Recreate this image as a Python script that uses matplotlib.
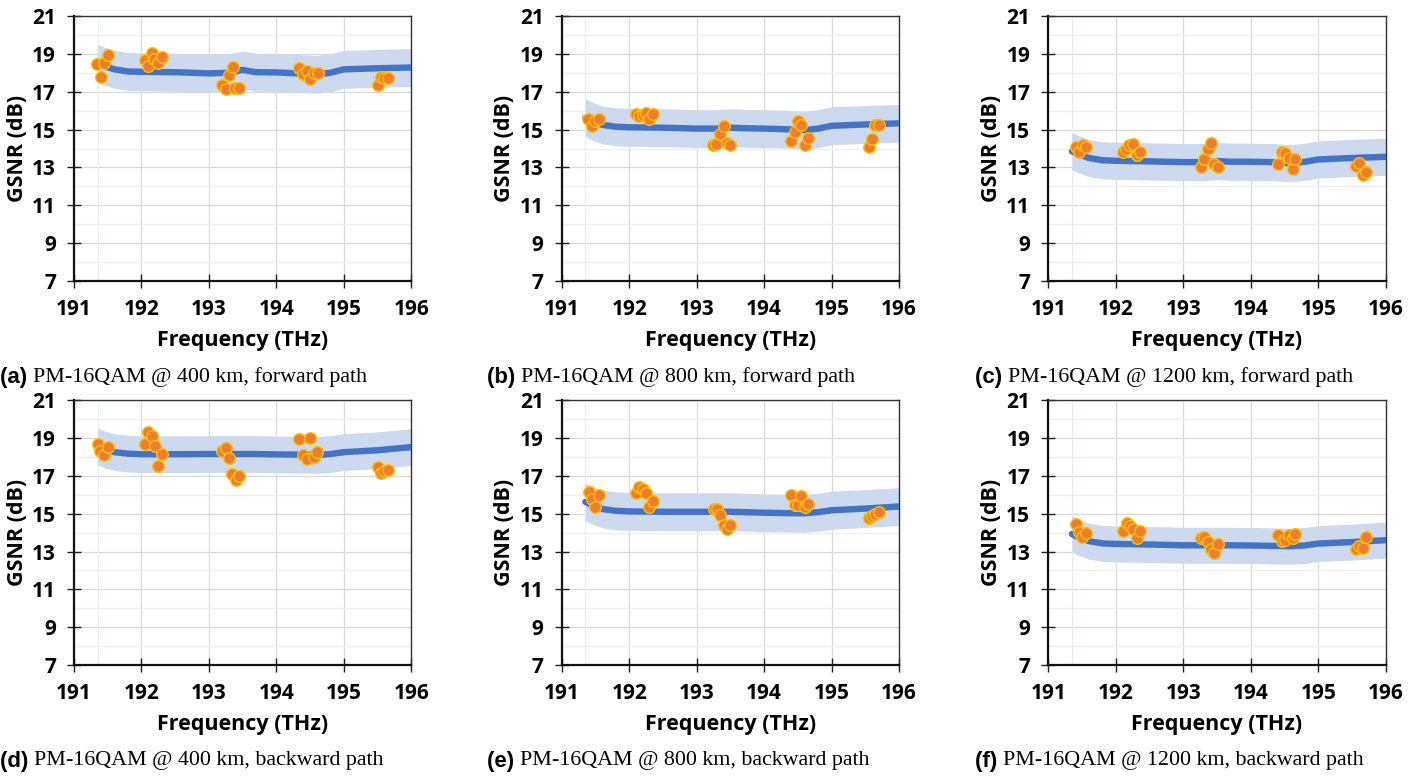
import matplotlib
matplotlib.use("Agg")
import matplotlib.pyplot as plt
from matplotlib.ticker import MultipleLocator

# ---- modelled GSNR curve (knots) ----
model_freq = [191.35, 191.45, 191.6, 191.8, 192.0, 192.5, 193.0, 193.3, 193.5,
              193.7, 194.0, 194.3, 194.6, 194.8, 195.0, 195.5, 196.0]

model_a = [18.50, 18.35, 18.18, 18.07, 18.05, 18.03, 17.97, 18.00, 18.15,
           18.03, 18.02, 17.97, 17.92, 18.00, 18.18, 18.24, 18.28]
model_b = [15.62, 15.45, 15.25, 15.15, 15.12, 15.10, 15.05, 15.05, 15.10,
           15.07, 15.05, 15.02, 14.97, 15.05, 15.20, 15.27, 15.33]
model_c = [13.85, 13.70, 13.50, 13.38, 13.35, 13.32, 13.28, 13.28, 13.34,
           13.30, 13.30, 13.28, 13.22, 13.30, 13.42, 13.50, 13.56]
model_d = [18.55, 18.40, 18.25, 18.17, 18.14, 18.14, 18.15, 18.15, 18.15,
           18.15, 18.13, 18.12, 18.10, 18.15, 18.25, 18.35, 18.52]
model_e = [15.62, 15.45, 15.25, 15.15, 15.12, 15.10, 15.10, 15.10, 15.10,
           15.08, 15.05, 15.03, 15.02, 15.08, 15.18, 15.27, 15.38]
model_f = [13.93, 13.75, 13.55, 13.43, 13.40, 13.37, 13.33, 13.33, 13.33,
           13.33, 13.32, 13.30, 13.28, 13.32, 13.42, 13.50, 13.60]

# half-width of the uncertainty band (dB)
band_hw = [1.0, 1.0, 0.98, 0.97, 1.0, 0.95]

# ---- measured channels ----
meas_f_a = [191.34, 191.40, 191.45, 191.50, 192.05, 192.10, 192.15, 192.19, 192.25, 192.31,
            193.20, 193.25, 193.30, 193.35, 193.39, 193.45, 194.34, 194.39, 194.45, 194.50,
            194.56, 194.61, 195.50, 195.55, 195.60, 195.65]
meas_g_a = [18.46, 17.76, 18.53, 18.92, 18.68, 18.36, 19.03, 18.71, 18.53, 18.83,
            17.34, 17.13, 17.87, 18.32, 17.18, 17.18, 18.24, 17.94, 18.11, 17.69,
            18.00, 18.00, 17.37, 17.76, 17.70, 17.74]

meas_f_b = [191.39, 191.45, 191.49, 191.55, 192.10, 192.15, 192.20, 192.25, 192.30, 192.35,
            193.24, 193.29, 193.35, 193.40, 193.45, 193.50, 194.40, 194.45, 194.50, 194.55,
            194.60, 194.65, 195.55, 195.60, 195.65, 195.70]
meas_g_b = [15.54, 15.19, 15.47, 15.56, 15.82, 15.73, 15.79, 15.88, 15.58, 15.84,
            14.17, 14.24, 14.77, 15.19, 14.31, 14.19, 14.41, 14.89, 15.44, 15.24,
            14.20, 14.56, 14.10, 14.50, 15.23, 15.23]

meas_f_c = [191.41, 191.46, 191.51, 191.56, 192.10, 192.15, 192.20, 192.26, 192.31, 192.36,
            193.26, 193.31, 193.36, 193.41, 193.46, 193.51, 194.41, 194.46, 194.51, 194.56,
            194.62, 194.66, 195.56, 195.61, 195.66, 195.71]
meas_g_c = [14.10, 13.82, 14.19, 14.10, 13.82, 13.96, 14.19, 14.22, 13.67, 13.83,
            13.00, 13.43, 13.97, 14.27, 13.18, 13.04, 13.16, 13.83, 13.78, 13.50,
            12.90, 13.43, 13.09, 13.22, 12.60, 12.78]

meas_f_d = [191.35, 191.39, 191.45, 191.50, 192.05, 192.10, 192.15, 192.20, 192.25, 192.30,
            193.20, 193.25, 193.30, 193.34, 193.40, 193.45, 194.34, 194.39, 194.45, 194.50,
            194.55, 194.60, 195.50, 195.55, 195.60, 195.65]
meas_g_d = [18.67, 18.33, 18.10, 18.54, 18.68, 19.33, 19.09, 18.56, 17.53, 18.14,
            18.33, 18.49, 17.94, 17.10, 16.80, 17.01, 18.93, 18.08, 17.87, 18.98,
            18.01, 18.26, 17.45, 17.13, 17.25, 17.29]

meas_f_e = [191.40, 191.45, 191.50, 191.55, 192.10, 192.14, 192.20, 192.25, 192.30, 192.35,
            193.25, 193.30, 193.35, 193.40, 193.45, 193.50, 194.40, 194.45, 194.50, 194.55,
            194.60, 194.65, 195.55, 195.60, 195.65, 195.70]
meas_g_e = [16.15, 15.79, 15.34, 16.00, 16.09, 16.39, 16.30, 16.11, 15.35, 15.67,
            15.26, 15.26, 14.95, 14.40, 14.18, 14.42, 16.00, 15.44, 15.46, 15.95,
            15.37, 15.53, 14.79, 14.89, 15.00, 15.10]

meas_f_f = [191.41, 191.46, 191.50, 191.56, 192.11, 192.16, 192.21, 192.26, 192.31, 192.36,
            193.26, 193.31, 193.36, 193.41, 193.46, 193.52, 194.41, 194.46, 194.51, 194.56,
            194.62, 194.66, 195.56, 195.61, 195.66, 195.71]
meas_g_f = [14.45, 14.02, 13.79, 14.00, 14.09, 14.49, 14.35, 14.18, 13.70, 14.09,
            13.70, 13.75, 13.49, 13.13, 12.94, 13.40, 13.87, 13.56, 13.61, 13.89,
            13.72, 13.93, 13.12, 13.29, 13.17, 13.77]

panel_tags = ["(a)", "(b)", "(c)", "(d)", "(e)", "(f)"]
panel_titles = [
    "PM-16QAM @ 400 km, forward path",
    "PM-16QAM @ 800 km, forward path",
    "PM-16QAM @ 1200 km, forward path",
    "PM-16QAM @ 400 km, backward path",
    "PM-16QAM @ 800 km, backward path",
    "PM-16QAM @ 1200 km, backward path",
]
models = [model_a, model_b, model_c, model_d, model_e, model_f]
meas = [(meas_f_a, meas_g_a), (meas_f_b, meas_g_b), (meas_f_c, meas_g_c),
        (meas_f_d, meas_g_d), (meas_f_e, meas_g_e), (meas_f_f, meas_g_f)]

x_ticks = [191, 192, 193, 194, 195, 196]
y_ticks = [7, 9, 11, 13, 15, 17, 19, 21]

# ---- styling ----
W, H = 1420, 776
LINE_BLUE = "#4472C4"
BAND_BLUE = "#CCD9EE"
DOT_FILL = "#ED7D31"
DOT_EDGE = "#FFC000"
TICK_FONT = "Open Sans"
CAP_SERIF = "Liberation Serif"
CAP_SANS = "Liberation Sans"

fig = plt.figure(figsize=(W / 100, H / 100), dpi=100)
renderer = fig.canvas.get_renderer()

col_left = [74, 561.7, 1048.3]
row_top = [16, 400.1]
ax_w, ax_h = 337.4, 265

for i in range(6):
    r, c = divmod(i, 3)
    left = col_left[c]
    top = row_top[r]
    ax = fig.add_axes([left / W, 1 - (top + ax_h) / H, ax_w / W, ax_h / H])

    mean = models[i]
    hw = band_hw[i]
    lower = [m - hw for m in mean]
    upper = [m + hw for m in mean]

    ax.fill_between(model_freq, lower, upper, color=BAND_BLUE, lw=0, zorder=2)
    ax.axvline(model_freq[0], color="#e6ecf7", lw=0.8, zorder=1)
    ax.plot(model_freq, mean, color=LINE_BLUE, lw=4.6, solid_capstyle="round",
            solid_joinstyle="round", zorder=3)
    ax.scatter(meas[i][0], meas[i][1], s=70, facecolor=DOT_FILL,
               edgecolor=DOT_EDGE, linewidth=1.0, zorder=4)

    ax.set_xlim(191, 196)
    ax.set_ylim(7, 21)
    ax.set_xticks(x_ticks)
    ax.set_yticks(y_ticks)
    ax.yaxis.set_minor_locator(MultipleLocator(1))
    ax.grid(True, which="major", color="#d9d9d9", lw=0.9, zorder=0)
    ax.grid(True, which="minor", axis="y", color="#eeeeee", lw=0.9, zorder=0)
    ax.set_axisbelow(True)

    ax.tick_params(axis="both", which="major", direction="inout", length=10,
                   width=1.0, color="#222222", labelsize=15)
    ax.tick_params(axis="x", which="major", pad=8)
    ax.tick_params(axis="y", which="major", pad=8)
    ax.tick_params(axis="y", which="minor", length=0)
    for lab in ax.get_xticklabels() + ax.get_yticklabels():
        lab.set_fontfamily(TICK_FONT)
        lab.set_fontweight("bold")

    for side in ["left", "bottom"]:
        ax.spines[side].set_color("#111111")
        ax.spines[side].set_linewidth(1.6)
    for side in ["top", "right"]:
        ax.spines[side].set_color("#333333")
        ax.spines[side].set_linewidth(1.0)

    ax.set_xlabel("Frequency (THz)", fontfamily=TICK_FONT, fontweight="bold",
                  fontsize=15.5, labelpad=7)
    ax.set_ylabel("GSNR (dB)", fontfamily=TICK_FONT, fontweight="bold",
                  fontsize=15.5, labelpad=3)

    # caption under each panel
    cap_x = [0, 487, 975][c] / W
    cap_y = 1 - ([377, 761][r]) / H
    t1 = fig.text(cap_x, cap_y, panel_tags[i] + " ", fontfamily=CAP_SANS,
                  fontweight="bold", fontsize=16, va="center", ha="left")
    bb = t1.get_window_extent(renderer=renderer)
    fig.text(bb.x1 / W, cap_y, panel_titles[i], fontfamily=CAP_SERIF,
             fontsize=15.8, va="center", ha="left")

fig.savefig("out.png", dpi=100)
